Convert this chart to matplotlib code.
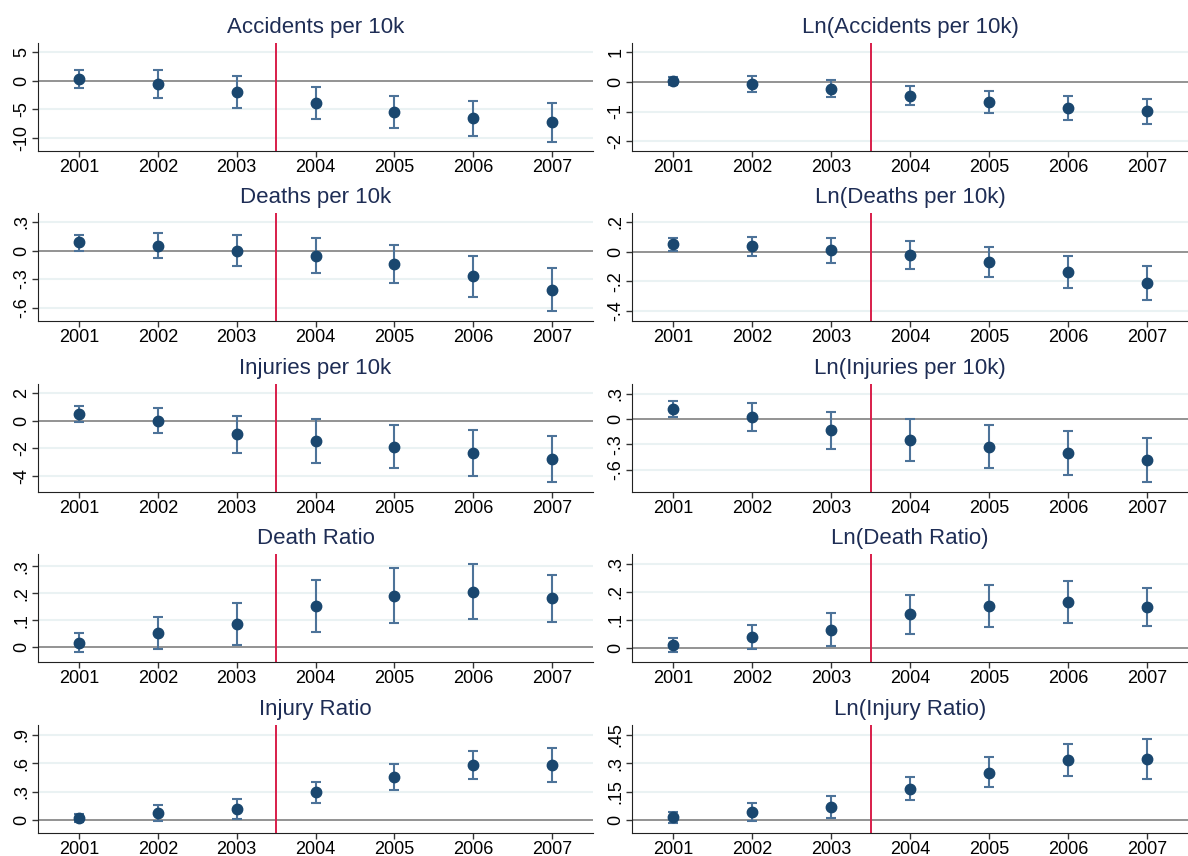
import matplotlib
matplotlib.use("Agg")
import matplotlib.pyplot as plt
import matplotlib.ticker as tkr
import numpy as np

plt.rcParams['font.family'] = ['Liberation Sans', 'DejaVu Sans']

years = [2001, 2002, 2003, 2004, 2005, 2006, 2007]

titles = [
    "Accidents per 10k", "Ln(Accidents per 10k)",
    "Deaths per 10k", "Ln(Deaths per 10k)",
    "Injuries per 10k", "Ln(Injuries per 10k)",
    "Death Ratio", "Ln(Death Ratio)",
    "Injury Ratio", "Ln(Injury Ratio)",
]

# point estimates, upper and lower CI per panel
acc_est = [0.30, -0.59, -1.93, -3.87, -5.45, -6.56, -7.26]
acc_hi = [1.87, 1.82, 0.88, -1.05, -2.64, -3.46, -3.87]
acc_lo = [-1.29, -3.05, -4.75, -6.68, -8.20, -9.60, -10.66]

lnacc_est = [0.045, -0.056, -0.23, -0.46, -0.69, -0.89, -0.99]
lnacc_hi = [0.18, 0.20, 0.07, -0.135, -0.32, -0.485, -0.575]
lnacc_lo = [-0.12, -0.33, -0.51, -0.79, -1.06, -1.30, -1.41]

dth_est = [0.085, 0.053, 0.0, -0.053, -0.145, -0.272, -0.413]
dth_hi = [0.166, 0.184, 0.159, 0.13, 0.056, -0.053, -0.187]
dth_lo = [0.0, -0.074, -0.159, -0.233, -0.342, -0.487, -0.639]

lndth_est = [0.05, 0.034, 0.007, -0.023, -0.072, -0.138, -0.215]
lndth_hi = [0.093, 0.097, 0.088, 0.07, 0.029, -0.032, -0.10]
lndth_lo = [0.005, -0.032, -0.075, -0.115, -0.174, -0.245, -0.33]

inj_est = [0.51, 0.02, -0.95, -1.48, -1.89, -2.38, -2.79]
inj_hi = [1.09, 0.97, 0.39, 0.15, -0.29, -0.68, -1.09]
inj_lo = [-0.07, -0.92, -2.31, -3.11, -3.47, -4.03, -4.47]

lninj_est = [0.122, 0.028, -0.13, -0.245, -0.328, -0.403, -0.486]
lninj_hi = [0.217, 0.19, 0.087, 0.004, -0.071, -0.138, -0.225]
lninj_lo = [0.024, -0.138, -0.351, -0.501, -0.58, -0.663, -0.746]

dr_est = [0.016, 0.053, 0.084, 0.152, 0.19, 0.206, 0.181]
dr_hi = [0.053, 0.112, 0.163, 0.248, 0.295, 0.309, 0.269]
dr_lo = [-0.02, -0.007, 0.006, 0.056, 0.088, 0.104, 0.094]

lndr_est = [0.012, 0.039, 0.065, 0.119, 0.149, 0.163, 0.146]
lndr_hi = [0.037, 0.083, 0.124, 0.19, 0.223, 0.237, 0.212]
lndr_lo = [-0.015, -0.005, 0.007, 0.048, 0.073, 0.09, 0.079]

ir_est = [0.024, 0.073, 0.115, 0.293, 0.453, 0.579, 0.579]
ir_hi = [0.07, 0.16, 0.223, 0.405, 0.596, 0.725, 0.757]
ir_lo = [-0.021, -0.01, 0.01, 0.181, 0.314, 0.429, 0.398]

lnir_est = [0.017, 0.045, 0.068, 0.164, 0.251, 0.317, 0.323]
lnir_hi = [0.045, 0.091, 0.126, 0.225, 0.33, 0.40, 0.427]
lnir_lo = [-0.014, -0.002, 0.01, 0.105, 0.173, 0.234, 0.215]

estimates = [acc_est, lnacc_est, dth_est, lndth_est, inj_est,
             lninj_est, dr_est, lndr_est, ir_est, lnir_est]
uppers = [acc_hi, lnacc_hi, dth_hi, lndth_hi, inj_hi,
          lninj_hi, dr_hi, lndr_hi, ir_hi, lnir_hi]
lowers = [acc_lo, lnacc_lo, dth_lo, lndth_lo, inj_lo,
          lninj_lo, dr_lo, lndr_lo, ir_lo, lnir_lo]

yticks = [
    [-10, -5, 0, 5], [-2, -1, 0, 1],
    [-0.6, -0.3, 0, 0.3], [-0.4, -0.2, 0, 0.2],
    [-4, -2, 0, 2], [-0.6, -0.3, 0, 0.3],
    [0, 0.1, 0.2, 0.3], [0, 0.1, 0.2, 0.3],
    [0, 0.3, 0.6, 0.9], [0, 0.15, 0.3, 0.45],
]
ylims = [
    (-12.3, 6.62), (-2.33, 1.31),
    (-0.741, 0.395), (-0.469, 0.26),
    (-5.19, 2.69), (-0.865, 0.418),
    (-0.056, 0.346), (-0.05, 0.334),
    (-0.133, 1.0), (-0.066, 0.5),
]

marker_c = "#1a476f"
bar_c = "#4d7399"
title_c = "#1e2d55"
grid_c = "#eaf2f3"


def stata_fmt(v, pos):
    s = ('%g' % round(v, 4))
    s = s.replace('0.', '.')
    return s


W, H = 1188, 856
fig = plt.figure(figsize=(W / 100, H / 100), dpi=100)

tops = [43, 213, 384, 554, 725]
lefts = [38, 632]
ax_w = [555, 556]
ax_h = 108

for i in range(10):
    r, c = divmod(i, 2)
    ax = fig.add_axes([lefts[c] / W, 1 - (tops[r] + ax_h) / H,
                       ax_w[c] / W, ax_h / H])
    est = np.array(estimates[i])
    hi = np.array(uppers[i])
    lo = np.array(lowers[i])
    for t in yticks[i]:
        if t != 0:
            ax.axhline(t, color=grid_c, lw=1.5, zorder=0)
    ax.axhline(0, color="#8a8a8a", lw=1.3, zorder=1)
    ax.axvline(2003.5, color="#d81e4a", lw=1.4, zorder=2)
    ax.errorbar(years, est, yerr=[est - lo, hi - est], fmt='none',
                ecolor=bar_c, elinewidth=1.5, capsize=3.5, capthick=1.5, zorder=3)
    ax.plot(years, est, 'o', color=marker_c, ms=7.5, zorder=4)

    ax.set_xlim(2000.48, 2007.52)
    ax.set_ylim(*ylims[i])
    ax.set_xticks(years)
    ax.set_yticks(yticks[i])
    ax.yaxis.set_major_formatter(tkr.FuncFormatter(stata_fmt))
    for lab in ax.get_yticklabels():
        lab.set_rotation(90)
        lab.set_va('center')
    ax.tick_params(axis='both', labelsize=13, length=4, width=1,
                   color="#333333", pad=1.5)
    ax.spines['top'].set_visible(False)
    ax.spines['right'].set_visible(False)
    ax.spines['left'].set_color("#222222")
    ax.spines['bottom'].set_color("#222222")
    ax.set_title(titles[i], fontsize=16, color=title_c, pad=7)

plt.savefig("out.png", dpi=100)
